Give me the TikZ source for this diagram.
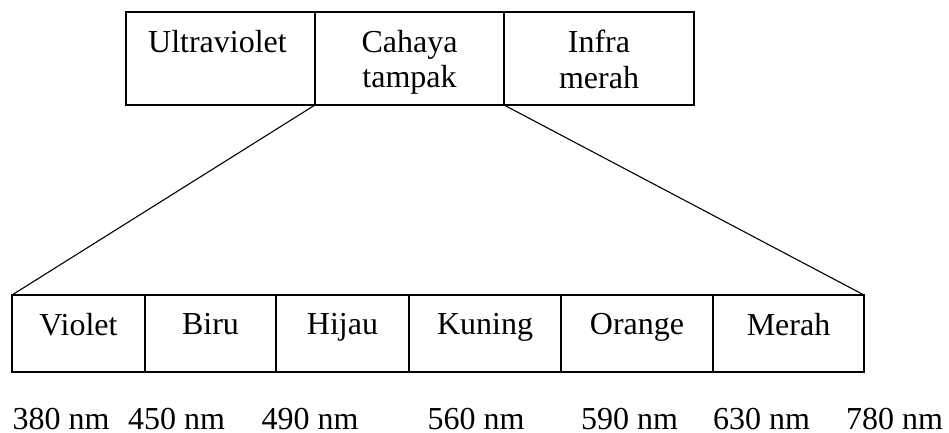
\documentclass[tikz,border=0pt]{standalone}
\usepackage{fontspec}
\setmainfont{Liberation Serif}
\begin{document}
\begin{tikzpicture}[x=1pt,y=-1pt,
  every node/.style={font=\fontsize{32}{35.5}\selectfont},
  box/.style={draw, line width=1.1pt, inner sep=0pt, outer sep=0pt},
  topbox/.style={box, minimum height=93pt},
  botbox/.style={box, minimum height=77pt},
  lbl/.style={anchor=north, inner sep=0pt, align=center},
  wl/.style={anchor=base, inner sep=0pt},
  conn/.style={line width=1.1pt}]
\useasboundingbox (0,0) rectangle (949,433);
% top row
\node[topbox, minimum width=189pt] (uv) at (220.5,58.5) {};
\node[topbox, minimum width=189pt] (vis) at (409.5,58.5) {};
\node[topbox, minimum width=190pt] (ir) at (599,58.5) {};
\node[lbl] (tuv) at ([xshift=-3pt,yshift=-18pt]uv.north) {Ultraviolet};
\node[lbl] (tvis) at ([yshift=-18pt]vis.north) {Cahaya\\tampak};
\node[lbl] (tir) at ([yshift=-18pt]ir.north) {Infra\\merah};
% bottom row
\node[botbox, minimum width=133pt] (vi) at (78.5,333.5) {};
\node[botbox, minimum width=131pt] (bi) at (210.5,333.5) {};
\node[botbox, minimum width=133pt] (hi) at (342.5,333.5) {};
\node[botbox, minimum width=152pt] (ku) at (485,333.5) {};
\node[botbox, minimum width=152pt] (or) at (637,333.5) {};
\node[botbox, minimum width=151pt] (me) at (788.5,333.5) {};
\node[lbl] (tvi) at ([yshift=-18pt]vi.north) {Violet};
\node[lbl] (tbi) at ([yshift=-18.5pt]bi.north) {Biru};
\node[lbl] (thi) at ([yshift=-18pt]hi.north) {Hijau};
\node[lbl] (tku) at ([yshift=-18.5pt]ku.north) {Kuning};
\node[lbl] (tor) at ([yshift=-18pt]or.north) {Orange};
\node[lbl] (tme) at ([yshift=-18pt]me.north) {Merah};
% connectors
\draw[conn] (vis.south west) -- (vi.north west);
\draw[conn] (vis.south east) -- (me.north east);
% wavelengths
\node[wl] (w1) at (61,429) {380 nm};
\node[wl] (w2) at (176.5,429) {450 nm};
\node[wl] (w3) at (310,429) {490 nm};
\node[wl] (w4) at (476,429) {560 nm};
\node[wl] (w5) at (629.5,429) {590 nm};
\node[wl] (w6) at (761.5,429) {630 nm};
\node[wl] (w7) at (894.5,429) {780 nm};
\end{tikzpicture}
\end{document}
